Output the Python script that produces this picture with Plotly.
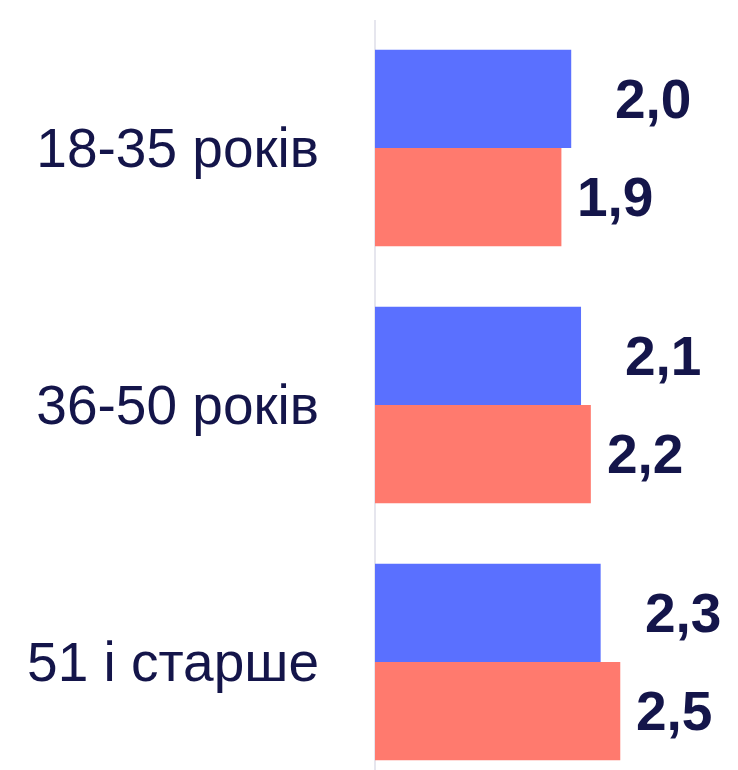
import plotly.graph_objects as go

# Age groups and the two series of average values
categories = ["18-35 років", "36-50 років", "51 і старше"]
series_a = [2.0, 2.1, 2.3]
series_b = [1.9, 2.2, 2.5]

color_a = "#5A70FF"
color_b = "#FF7A6E"
text_color = "#14154A"
font_family = "Liberation Sans Narrow, Arial Narrow, Liberation Sans, Arial, sans-serif"
font_size = 55

bar_w = 0.382
offset = bar_w / 2
idx = list(range(len(categories)))
y_a = [i - offset for i in idx]
y_b = [i + offset for i in idx]

fig = go.Figure()
fig.add_trace(go.Bar(x=series_a, y=y_a, orientation="h", width=bar_w,
                     marker=dict(color=color_a, line=dict(width=0)),
                     hoverinfo="skip"))
fig.add_trace(go.Bar(x=series_b, y=y_b, orientation="h", width=bar_w,
                     marker=dict(color=color_b, line=dict(width=0)),
                     hoverinfo="skip"))


def fmt(v):
    return f"{v:.1f}".replace(".", ",")


annotations = []
for vals, ys, gap in ((series_a, y_a, 42), (series_b, y_b, 14)):
    for v, yy in zip(vals, ys):
        annotations.append(dict(
            x=v, y=yy, xref="x", yref="y", text=f"<b>{fmt(v)}</b>",
            showarrow=False, xanchor="left", yanchor="middle", xshift=gap,
            font=dict(family=font_family, size=font_size, color=text_color)))

fig.update_layout(
    width=738, height=770,
    margin=dict(l=375, r=0, t=20, b=0),
    paper_bgcolor="white", plot_bgcolor="white",
    showlegend=False,
    annotations=annotations,
    xaxis=dict(range=[0, 3.70], showgrid=False, showticklabels=False,
               zeroline=True, zerolinecolor="#E6E6EE", zerolinewidth=2,
               automargin=False, fixedrange=True),
    yaxis=dict(range=[2.42, -0.498], tickmode="array", tickvals=idx,
               ticktext=categories, showgrid=False, zeroline=False,
               ticklabelstandoff=55, automargin=False,
               tickfont=dict(family=font_family, size=font_size, color=text_color),
               fixedrange=True),
)

fig.write_html("out.html")
